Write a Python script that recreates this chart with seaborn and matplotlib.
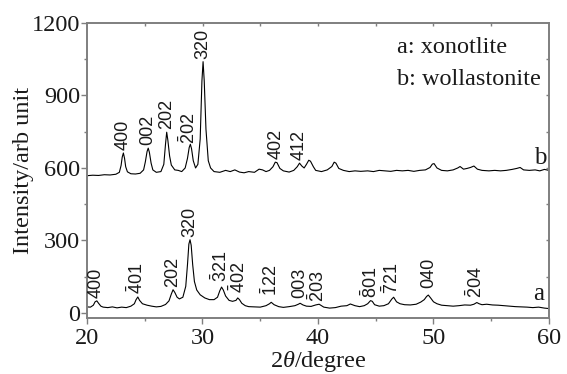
import matplotlib
matplotlib.use("Agg")
import matplotlib.pyplot as plt
import seaborn as sns
import pandas as pd
from matplotlib.ticker import MultipleLocator

# ---- data ----
twotheta_b = [20.0, 20.5, 21.0, 21.5, 22.0, 22.5, 22.8, 22.95, 23.05, 23.15, 23.25, 23.35, 23.5, 23.8,
              24.2, 24.6, 24.9, 25.05, 25.2, 25.3, 25.4, 25.55, 25.7, 26.0, 26.4, 26.65, 26.8, 26.9, 27.0,
              27.15, 27.3, 27.6, 27.9, 28.2, 28.5, 28.7, 28.85, 28.95, 29.05, 29.2, 29.4, 29.6, 29.8, 29.95,
              30.05, 30.15, 30.3, 30.5, 30.7, 31.0, 31.5, 32.0, 32.4, 32.8, 33.2, 33.6, 34.0, 34.5,
              34.9, 35.2, 35.5, 35.8, 36.1, 36.3, 36.45, 36.7, 37.0, 37.5, 37.9, 38.2, 38.4,
              38.6, 38.8, 39.0, 39.2, 39.35, 39.6, 39.8, 40.3, 40.8, 41.2, 41.4, 41.55, 41.8, 42.2,
              42.7, 43.2, 43.7, 44.3, 44.8, 45.3, 45.8, 46.3, 46.8, 47.3, 47.8, 48.3,
              48.8, 49.3, 49.7, 49.9, 50.05, 50.3, 50.7, 51.2, 51.7, 52.1, 52.3, 52.6, 52.9,
              53.2, 53.5, 53.8, 54.2, 54.8, 55.3, 55.8, 56.3, 56.8, 57.2, 57.5, 57.8,
              58.3, 58.8, 59.2, 59.6, 60.0]
intensity_b = [568, 570, 569, 572, 571, 574, 582, 610, 645, 662, 640, 605, 584, 576,
               575, 578, 592, 625, 668, 682, 665, 620, 592, 582, 585, 615, 700, 748, 715,
               650, 612, 592, 590, 585, 600, 640, 685, 698, 680, 630, 600, 615, 720, 960,
               1040, 960, 760, 630, 600, 585, 582, 590, 585, 592, 583, 580, 585, 582,
               595, 592, 585, 590, 605, 624, 622, 598, 588, 583, 590, 605, 620,
               608, 600, 615, 632, 628, 605, 590, 585, 592, 606, 624, 620, 598, 590,
               585, 588, 586, 588, 585, 590, 588, 586, 590, 588, 590, 586,
               590, 592, 602, 616, 618, 600, 590, 588, 592, 600, 606, 595, 598,
               602, 608, 595, 590, 588, 590, 588, 590, 594, 598, 602, 592,
               590, 592, 588, 594, 590]

twotheta_a = [20.0, 20.3, 20.55, 20.7, 20.85, 21.0, 21.2, 21.4, 21.8, 22.2, 22.6, 23.0, 23.4, 23.8,
              24.1, 24.25, 24.4, 24.55, 24.8, 25.2, 25.6, 26.0, 26.4, 26.8, 27.1, 27.3, 27.45, 27.6, 27.8,
              28.0, 28.3, 28.55, 28.7, 28.82, 28.92, 29.02, 29.15, 29.3, 29.5, 29.8, 30.2, 30.6, 31.0, 31.3,
              31.5, 31.65, 31.8, 32.0, 32.3, 32.6, 32.9, 33.05, 33.2, 33.4, 33.7, 34.0, 34.5, 35.0,
              35.5, 35.8, 35.95, 36.2, 36.6, 37.0, 37.5, 38.0, 38.3, 38.45, 38.7, 39.0, 39.4, 39.8,
              40.1, 40.5, 41.0, 41.5, 42.0, 42.5, 42.8, 43.2, 43.6, 44.0, 44.3, 44.55, 44.7,
              44.9, 45.3, 45.7, 46.1, 46.4, 46.55, 46.8, 47.1, 47.5, 48.0, 48.5, 48.9, 49.2, 49.4, 49.55,
              49.75, 50.0, 50.3, 50.7, 51.2, 51.7, 52.2, 52.7, 53.2, 53.5, 53.75, 53.95, 54.2, 54.6,
              55.1, 55.6, 56.1, 56.6, 57.1, 57.6, 58.1, 58.6, 59.1, 59.6, 60.0]
intensity_a = [25, 24, 32, 46, 50, 40, 28, 24, 22, 25, 21, 24, 22, 28,
               38, 55, 66, 52, 38, 32, 28, 25, 27, 35, 50, 78, 96, 85, 65,
               58, 65, 110, 200, 285, 303, 280, 200, 130, 95, 75, 62, 55, 55, 65,
               92, 107, 95, 70, 52, 48, 52, 62, 55, 40, 30, 26, 25, 24,
               30, 38, 44, 34, 26, 23, 26, 30, 36, 40, 33, 28, 27, 33,
               36, 24, 20, 22, 28, 30, 37, 30, 26, 30, 38, 51, 48,
               34, 28, 30, 38, 58, 65, 46, 38, 34, 33, 36, 45, 55, 68, 74,
               62, 46, 38, 32, 30, 28, 30, 33, 32, 36, 43, 38, 34, 36,
               33, 32, 30, 28, 26, 25, 24, 22, 24, 20, 18]

labels_b = ["400", "002", "202", r"$\mathregular{\bar{2}02}$", "320", "402", "412"]
peak_pos_b = [23.15, 25.3, 26.9, 28.8, 30.05, 36.35, 38.4]
peak_int_b = [662, 682, 748, 688, 1040, 626, 620]

labels_a = ["400", r"$\mathregular{\bar{4}01}$", "202", "320", r"$\mathregular{\bar{3}21}$",
            r"$\mathregular{\bar{4}02}$", r"$\mathregular{\bar{1}22}$", "003",
            r"$\mathregular{\bar{2}03}$", r"$\mathregular{\bar{8}01}$",
            r"$\mathregular{\bar{7}21}$", "040", r"$\mathregular{\bar{2}04}$"]
peak_pos_a = [20.75, 24.35, 27.4, 28.9, 31.6, 33.1, 35.95, 38.4, 40.0, 44.6, 46.4, 49.55, 53.7]
peak_int_a = [50, 66, 96, 303, 118, 70, 60, 52, 32, 52, 68, 92, 52]

# ---- styling ----
sns.set_style("ticks")
plt.rcParams["font.family"] = ["Liberation Serif", "DejaVu Serif"]
plt.rcParams["mathtext.fontset"] = "custom"
plt.rcParams["mathtext.rm"] = "Liberation Serif"
plt.rcParams["mathtext.it"] = "Liberation Serif:italic"

fig = plt.figure(figsize=(5.67, 3.74), dpi=100)
ax = fig.add_axes([87 / 567, 1 - 318 / 374, (549 - 87) / 567, (318 - 23) / 374])

df_b = pd.DataFrame({"x": twotheta_b, "y": intensity_b})
df_a = pd.DataFrame({"x": twotheta_a, "y": intensity_a})
sns.lineplot(data=df_b, x="x", y="y", ax=ax, color="black", linewidth=0.8, sort=False)
sns.lineplot(data=df_a, x="x", y="y", ax=ax, color="black", linewidth=0.8, sort=False)

ax.set_xlim(20, 60)
ax.set_ylim(-21, 1200)
ax.xaxis.set_major_locator(MultipleLocator(10))
ax.xaxis.set_minor_locator(MultipleLocator(5))
ax.yaxis.set_major_locator(MultipleLocator(300))
ax.yaxis.set_minor_locator(MultipleLocator(150))

spine_color = "#7f7f7f"
for s in ax.spines.values():
    s.set_visible(True)
    s.set_color(spine_color)
    s.set_linewidth(1.4)

ax.tick_params(axis="both", which="major", direction="out", length=4, width=1.0,
               color=spine_color, labelsize=17.5, labelcolor="#1a1a1a")
ax.tick_params(axis="x", which="major", pad=3)
ax.tick_params(axis="y", which="major", pad=1)
ax.tick_params(axis="both", which="minor", direction="out", length=2.5, width=1.0,
               color=spine_color)

# inward ticks on top and right spines
top = ax.secondary_xaxis("top")
top.set_xticks([25, 30, 35, 40, 45, 50, 55])
top.tick_params(direction="in", length=2.5, width=1.0, color=spine_color, labeltop=False)
top.spines["top"].set_visible(False)
right = ax.secondary_yaxis("right")
right.set_yticks([150, 300, 450, 600, 750, 900, 1050])
right.tick_params(direction="in", length=2.5, width=1.0, color=spine_color, labelright=False)
right.spines["right"].set_visible(False)

ax.set_xlabel(r"2$\theta$/degree", fontsize=17.5, labelpad=0.5, color="#1a1a1a")
ax.set_ylabel("Intensity/arb unit", fontsize=17.5, labelpad=-1.5, color="#1a1a1a")

for lab, px, py in zip(labels_b, peak_pos_b, peak_int_b):
    ax.annotate(lab, (px, py), xytext=(0, 2), textcoords="offset points",
                rotation=90, ha="center", va="bottom", fontsize=13,
                family=["Liberation Sans", "DejaVu Sans"], color="#1a1a1a")
for lab, px, py in zip(labels_a, peak_pos_a, peak_int_a):
    ax.annotate(lab, (px, py), xytext=(0, 2), textcoords="offset points",
                rotation=90, ha="center", va="bottom", fontsize=13,
                family=["Liberation Sans", "DejaVu Sans"], color="#1a1a1a")

ax.text(46.8, 1100, "a: xonotlite", fontsize=17.5, va="center", ha="left", color="#1a1a1a")
ax.text(46.8, 965, "b: wollastonite", fontsize=17.5, va="center", ha="left", color="#1a1a1a")
ax.text(59.25, 640, "b", fontsize=18, va="center", ha="center", color="#1a1a1a")
ax.text(59.1, 80, "a", fontsize=18, va="center", ha="center", color="#1a1a1a")

fig.savefig("out.png", dpi=100)
